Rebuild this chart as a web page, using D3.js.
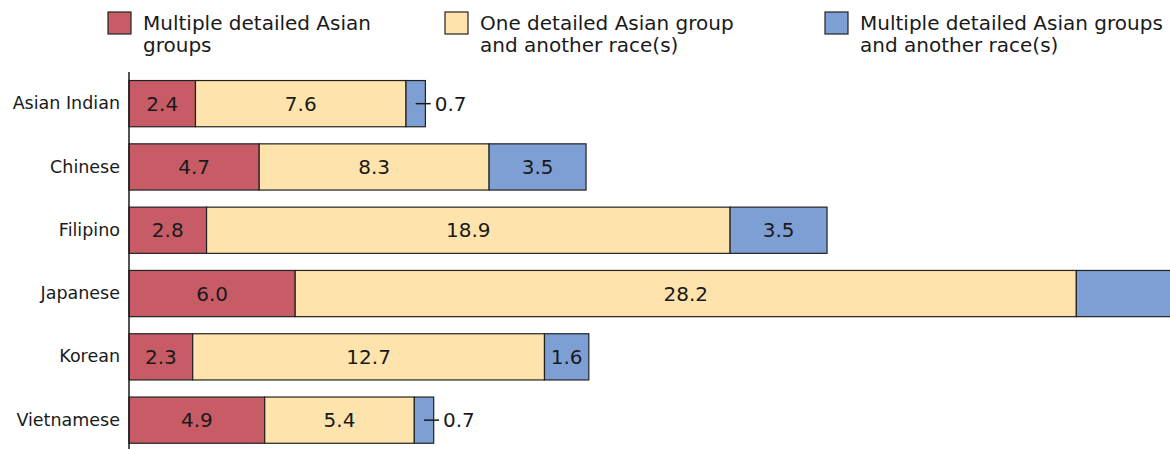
<!DOCTYPE html>
<html>
<head>
    <meta charset="utf-8">
    <title>Detailed Asian groups</title>
    <script src="https://d3js.org/d3.v7.min.js"></script>
    <style>
        body { margin: 0; padding: 0; background: #fff; }
        text { font-family: "DejaVu Sans", sans-serif; fill: #1a1a1a; }
    </style>
</head>
<body>
    <svg id="svg" width="1170" height="449"></svg>

    <script>
        const categories = ["Asian Indian", "Chinese", "Filipino", "Japanese", "Korean", "Vietnamese"];
        const seriesNames = ["Multiple detailed Asian groups", "One detailed Asian group and another race(s)", "Multiple detailed Asian groups and another race(s)"];
        const legendLines = [["Multiple detailed Asian", "groups"], ["One detailed Asian group", "and another race(s)"], ["Multiple detailed Asian groups", "and another race(s)"]];
        const multipleAsian = [2.4, 4.7, 2.8, 6.0, 2.3, 4.9];
        const oneAsianOtherRace = [7.6, 8.3, 18.9, 28.2, 12.7, 5.4];
        const multipleAsianOtherRace = [0.7, 3.5, 3.5, 9.2, 1.6, 0.7];
        const colors = ["#c75c66", "#ffe3ac", "#7e9fd4"];

        const svg = d3.select("svg");
        const W = +svg.attr("width");
        const margin = { top: 72, left: 129 };
        const pxPerUnit = 27.7;

        const rows = categories.map((c, i) => ({
            name: c,
            values: [multipleAsian[i], oneAsianOtherRace[i], multipleAsianOtherRace[i]]
        }));

        const x = d3.scaleLinear().domain([0, 1]).range([margin.left, margin.left + pxPerUnit]);
        const y = d3.scaleBand().domain(categories).range([margin.top, margin.top + 63.3 * categories.length])
            .paddingInner(0.27).paddingOuter(0.135);

        // Stacked segments
        const segs = [];
        rows.forEach(r => {
            let acc = 0;
            r.values.forEach((v, k) => {
                segs.push({ name: r.name, k, v, x0: acc, x1: acc + v });
                acc += v;
            });
        });

        const g = svg.append("g");
        g.selectAll("rect.seg")
            .data(segs)
            .join("rect")
            .attr("class", "seg")
            .attr("x", d => x(d.x0))
            .attr("y", d => y(d.name))
            .attr("width", d => x(d.x1) - x(d.x0))
            .attr("height", y.bandwidth())
            .attr("fill", d => colors[d.k])
            .attr("stroke", "#222")
            .attr("stroke-width", 1.2);

        // Labels: inside if there's room, otherwise outside with a leader.
        // Labels that fall past the right edge are cropped away like the bar.
        segs.forEach(d => {
            const w = x(d.x1) - x(d.x0);
            const cx = (x(d.x0) + x(d.x1)) / 2;
            const cy = y(d.name) + y.bandwidth() / 2;
            const label = d.v.toFixed(1);
            if (cx + 20 > W) return;
            if (w >= 40) {
                g.append("text")
                    .attr("x", cx)
                    .attr("y", cy)
                    .attr("dy", "0.36em")
                    .attr("text-anchor", "middle")
                    .style("font-size", "20px")
                    .text(label);
            } else {
                g.append("line")
                    .attr("x1", cx).attr("x2", cx + 15)
                    .attr("y1", cy).attr("y2", cy)
                    .attr("stroke", "#1a1a1a").attr("stroke-width", 1.5);
                g.append("text")
                    .attr("x", cx + 19)
                    .attr("y", cy)
                    .attr("dy", "0.36em")
                    .style("font-size", "20px")
                    .text(label);
            }
        });

        // Y axis
        const yAxis = g.append("g")
            .attr("transform", `translate(${margin.left},0)`)
            .call(d3.axisLeft(y).tickSize(0).tickPadding(9));
        yAxis.select(".domain").attr("d", `M0,${margin.top}V449`).attr("stroke", "#1a1a1a").attr("stroke-width", 1.5);
        yAxis.selectAll("text").style("font-size", "17.5px").attr("fill", "#1a1a1a");

        // Legend
        const legendX = [108, 445, 825];
        const legend = svg.append("g").selectAll("g")
            .data(seriesNames)
            .join("g")
            .attr("transform", (d, i) => `translate(${legendX[i]},12)`);
        legend.append("rect")
            .attr("width", 23).attr("height", 22)
            .attr("fill", (d, i) => colors[i])
            .attr("stroke", "#222").attr("stroke-width", 1.2);
        legend.append("text")
            .style("font-size", "20px")
            .selectAll("tspan")
            .data((d, i) => legendLines[i])
            .join("tspan")
            .attr("x", 35)
            .attr("y", (d, j) => 18 + j * 22)
            .text(d => d);
    </script>
</body>
</html>
